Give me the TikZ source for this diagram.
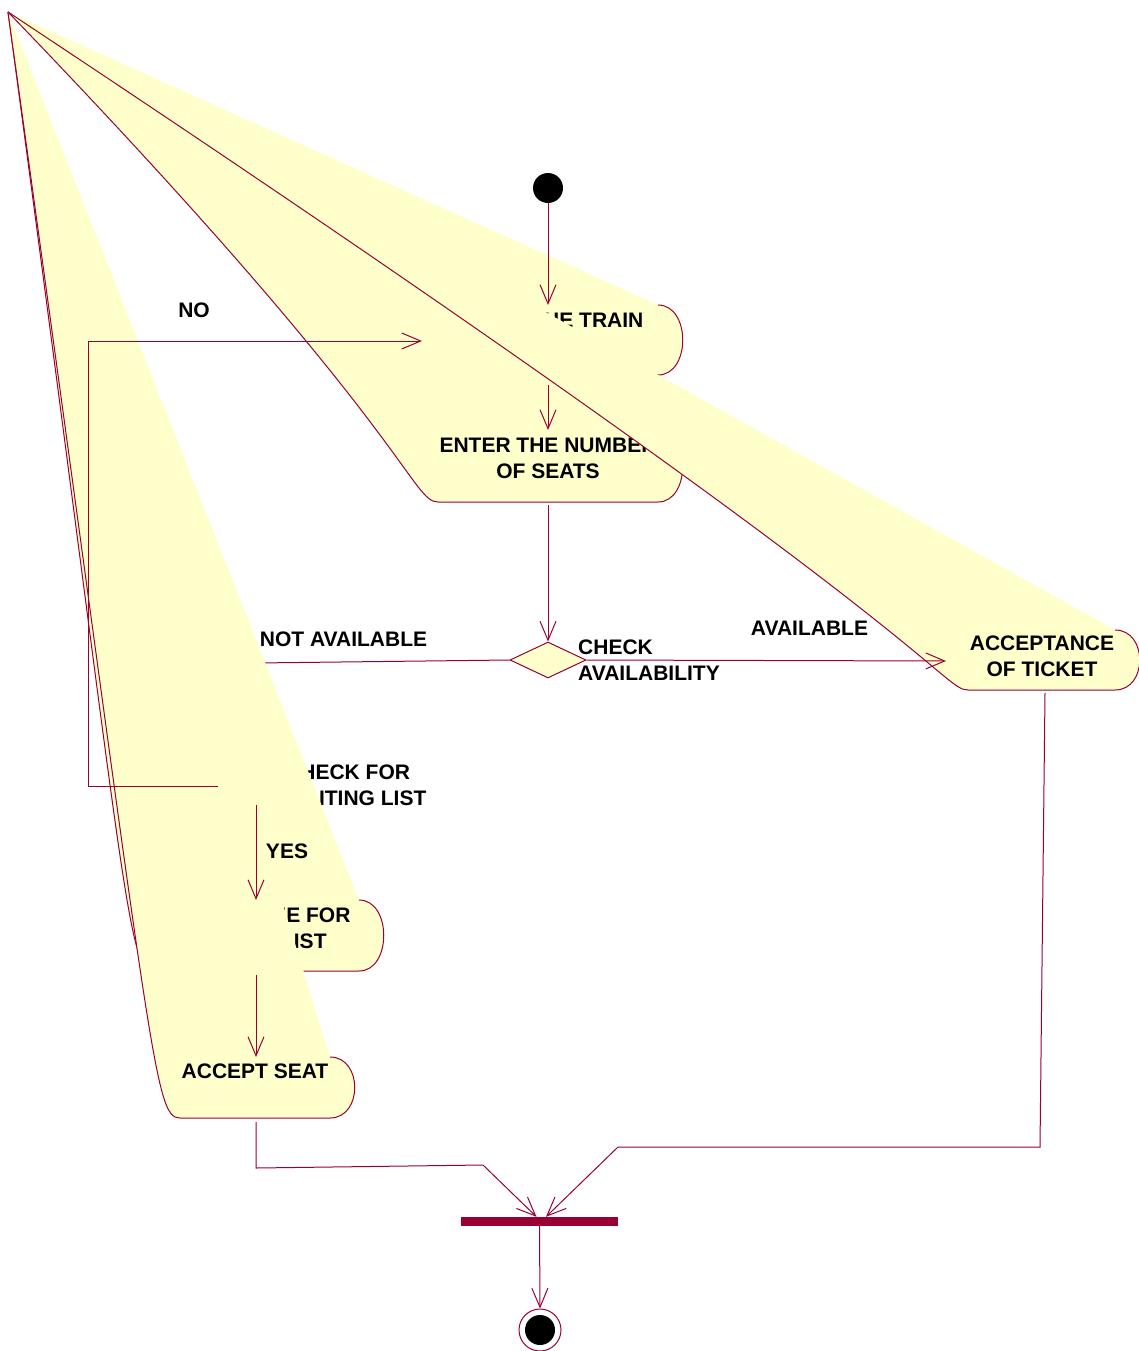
\documentclass[tikz,border=0pt]{standalone}
\usepackage{fontspec}
\setmainfont{Liberation Sans}
\usetikzlibrary{arrows.meta,shapes.geometric}
\definecolor{linec}{RGB}{153,0,51}
\definecolor{actc}{RGB}{255,255,204}
\newcommand\actshape[4]{% xl xr yt yb
  \fill[actfill] (apex) -- (#2,#3) .. controls (#2+33,#3) and (#2+33,#4) .. (#2,#4) -- (#1,#4) .. controls (#1-27,#4) and (#1-27,#3) .. (apex) -- cycle;
  \draw[actline] (#2,#3) .. controls (#2+33,#3) and (#2+33,#4) .. (#2,#4) -- (#1,#4) .. controls (#1-27,#4) and (#1-27,#3) .. (apex);
}
\begin{document}
\begin{tikzpicture}[x=1pt,y=-1pt,
  conn/.style={draw=linec, line width=1pt},
  arr/.style={conn, -{Straight Barb[length=19pt,width=16pt]}},
  actfill/.style={fill=actc},
  actline/.style={draw=linec, line width=1pt},
  lbl/.style={font=\fontsize{21}{26}\selectfont\bfseries, inner sep=0pt, align=center},
  decision/.style={diamond, draw=linec, fill=actc, line width=1pt, minimum width=76pt, minimum height=36pt, inner sep=0pt}
]
\useasboundingbox (0,0) rectangle (1139,1351);
\coordinate (apex) at (8,12);

% decisions
\node[decision] (avail) at (548,660) {};
\node[decision] (wait) at (256,786) {};
\node[lbl, align=left, anchor=west] (availt) at (578,660) {CHECK\\AVAILABILITY};
\node[lbl, align=left, anchor=west] (waitt) at (285,785) {CHECK FOR\\WAITING LIST};
\draw[conn] (avail.west) -- (256,663) -- (wait.north);

% activities
\actshape{438}{658}{305}{375}
\node[lbl] (selt) at (543,320) {SELECT THE TRAIN};
\actshape{438}{658}{430}{502}
\node[lbl] (entt) at (548,458) {ENTER THE NUMBER\\OF SEATS};
\actshape{968}{1115}{630}{690}
\node[lbl] (acct) at (1042,656) {ACCEPTANCE\\OF TICKET};
\actshape{154}{359}{900}{971}
\node[lbl] (wlt) at (256,928) {ENTER NAME FOR\\WAITING LIST};
\actshape{180}{330}{1057}{1118}
\node[lbl] (ast) at (255,1071) {ACCEPT SEAT};

% anchor points of activities
\coordinate (sel-top) at (548,305);
\coordinate (sel-bot) at (548,385);
\coordinate (sel-left) at (422,341);
\coordinate (ent-top) at (548,430);
\coordinate (ent-bot) at (548,505);
\coordinate (acc-left) at (946,661);
\coordinate (acc-bot) at (1045,693);
\coordinate (wl-top) at (256,900);
\coordinate (wl-bot) at (256,975);
\coordinate (as-top) at (256,1057);
\coordinate (as-bot) at (256,1122);

% start / join / end
\node[circle, fill=black, minimum size=30pt, inner sep=0pt] (start) at (548,188) {};
\node[fill=linec, minimum width=157pt, minimum height=9pt, inner sep=0pt] (join) at (539.5,1221.5) {};
\node[circle, draw=linec, line width=1pt, minimum size=42pt, inner sep=0pt] (final) at (540,1330) {};
\node[circle, fill=black, minimum size=30pt, inner sep=0pt] (finaldot) at (540,1330) {};

% connectors
\draw[arr] (start.south) -- (sel-top);
\draw[arr] (sel-bot) -- (ent-top);
\draw[arr] (ent-bot) -- (avail.north);
\draw[arr] (avail.east) -- (acc-left);
\draw[arr] (wait.west) -- (88,786) -- (88,341) -- (sel-left);
\draw[arr] (wait.south) -- (wl-top);
\draw[arr] (wl-bot) -- (as-top);
\draw[arr] (as-bot) -- (256,1168) -- (483,1165) -- ([xshift=-3pt]join.north);
\draw[arr] (acc-bot) -- (1040,1147) -- (618,1147) -- ([xshift=6.5pt]join.north);
\draw[arr] (join.south) -- (final.north);

% guard labels
\node[lbl] (nol) at (194,310) {NO};
\node[lbl] (nal) at (343.5,639) {NOT AVAILABLE};
\node[lbl] (avl) at (809.5,628) {AVAILABLE};
\node[lbl] (yesl) at (287,851) {YES};
\end{tikzpicture}
\end{document}
